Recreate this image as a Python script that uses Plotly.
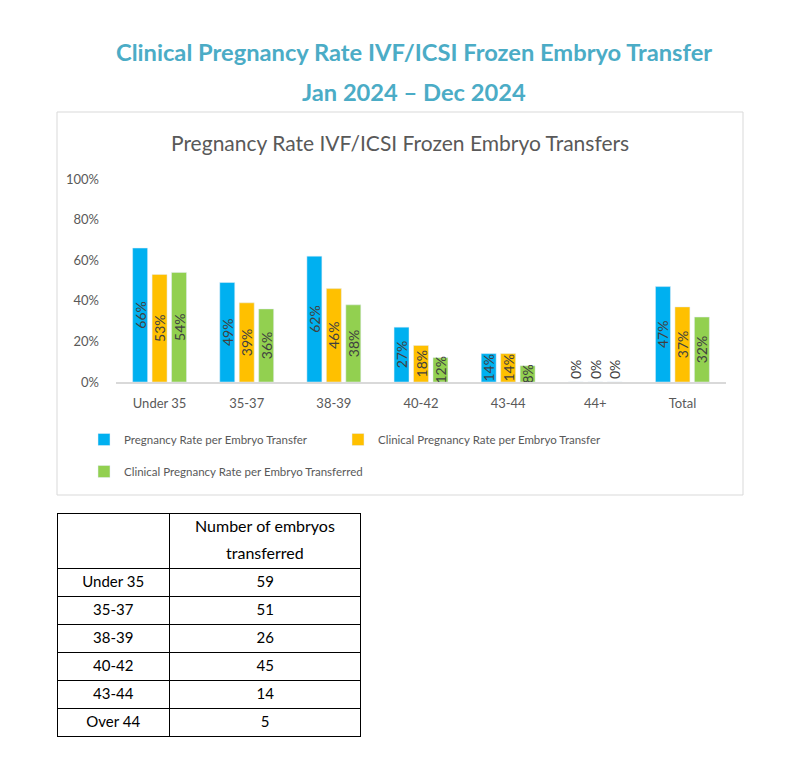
import plotly.graph_objects as go

# chart data
age_groups = ["Under 35", "35-37", "38-39", "40-42", "43-44", "44+", "Total"]
rate_per_transfer = [66, 49, 62, 27, 14, 0, 47]
clinical_per_transfer = [53, 39, 46, 18, 14, 0, 37]
clinical_per_embryo = [54, 36, 38, 12, 8, 0, 32]

series_names = ["Pregnancy Rate per Embryo Transfer",
                "Clinical Pregnancy Rate per Embryo Transfer",
                "Clinical Pregnancy Rate per Embryo Transferred"]
series_colors = ["#00B0F0", "#FFC000", "#92D050"]

# table data
table_groups = ["Under 35", "35-37", "38-39", "40-42", "43-44", "Over 44"]
embryos_transferred = [59, 51, 26, 45, 14, 5]
table_header = ["Number of embryos", "transferred"]

# page has an 8px body margin; keep the figure inside the 790x768 window
OFF = 8
W, H = 774, 752
FONT = "Lato, sans-serif"


def px_x(px):
    return (px - OFF) / W


def px_y(py):
    return 1 - (py - OFF) / H


fig = go.Figure()

all_series = [rate_per_transfer, clinical_per_transfer, clinical_per_embryo]
legends = ["legend", "legend2", "legend3"]
for name, color, values, leg in zip(series_names, series_colors, all_series, legends):
    fig.add_trace(go.Bar(
        name = name,
        x = age_groups,
        y = [v / 100 for v in values],
        text = [f"{v}%" for v in values],
        textposition = ["outside" if v == 0 else "inside" for v in values],
        insidetextanchor = "middle",
        textangle = -90,
        constraintext = "none",
        textfont = dict(family = FONT, size = 14, color = "#404040"),
        marker = dict(color = color),
        cliponaxis = False,
        legend = leg,
    ))

fig.add_trace(go.Table(
    domain = dict(x = [px_x(57), px_x(361)], y = [px_y(745), px_y(513)]),
    columnwidth = [112, 191],
    header = dict(
        values = ["", ""],
        height = 55,
        align = "center",
        line = dict(color = "black", width = 1),
        fill = dict(color = "white"),
        font = dict(family = FONT, size = 15, color = "black"),
    ),
    cells = dict(
        values = [table_groups, embryos_transferred],
        height = 28,
        align = "center",
        line = dict(color = "black", width = 1),
        fill = dict(color = "white"),
        font = dict(family = FONT, size = 15, color = "black"),
    ),
))

legend_style = dict(orientation = "h", yanchor = "top",
                    font = dict(size = 11.5, color = "#595959"))

fig.update_layout(
    width = W, height = H,
    margin = dict(l = 0, r = 0, t = 0, b = 0, autoexpand = False),
    paper_bgcolor = "white", plot_bgcolor = "white",
    barmode = "group", bargap = 0.33, bargroupgap = 0.23,
    font = dict(family = FONT, color = "#595959"),
    xaxis = dict(domain = [px_x(116), px_x(726)], showgrid = False, automargin = False,
                 showline = True, linecolor = "#D9D9D9", linewidth = 2,
                 ticks = "", ticklabelstandoff = 8,
                 tickfont = dict(size = 13, color = "#595959")),
    yaxis = dict(domain = [px_y(382), px_y(179)], range = [0, 1], dtick = 0.2,
                 tickformat = ".0%", showgrid = False, zeroline = False, automargin = False,
                 showline = False, ticks = "", ticklabelstandoff = 16,
                 tickfont = dict(size = 13, color = "#595959")),
    legend = dict(x = px_x(84), y = px_y(425), **legend_style),
    legend2 = dict(x = px_x(338), y = px_y(425), **legend_style),
    legend3 = dict(x = px_x(84), y = px_y(457), **legend_style),
    showlegend = True,
)

# chart frame
fig.add_shape(type = "rect", xref = "paper", yref = "paper",
              x0 = px_x(57), x1 = px_x(743), y0 = px_y(495), y1 = px_y(112),
              line = dict(color = "#D9D9D9", width = 1), layer = "below")

fig.add_annotation(text = "Clinical Pregnancy Rate IVF/ICSI Frozen Embryo Transfer",
                   xref = "paper", yref = "paper", x = px_x(414), y = px_y(52),
                   xanchor = "center", yanchor = "middle", showarrow = False,
                   font = dict(family = FONT, size = 23.7, color = "#4BACC6", weight = "bold"))
fig.add_annotation(text = "Jan 2024 – Dec 2024",
                   xref = "paper", yref = "paper", x = px_x(414), y = px_y(92),
                   xanchor = "center", yanchor = "middle", showarrow = False,
                   font = dict(family = FONT, size = 23.7, color = "#4BACC6", weight = "bold"))
fig.add_annotation(text = "Pregnancy Rate IVF/ICSI Frozen Embryo Transfers",
                   xref = "paper", yref = "paper", x = px_x(400), y = px_y(142),
                   xanchor = "center", yanchor = "middle", showarrow = False,
                   font = dict(family = FONT, size = 21, color = "#595959"))
for line, py in zip(table_header, [525, 552]):
    fig.add_annotation(text = line,
                       xref = "paper", yref = "paper", x = px_x(265), y = px_y(py),
                       xanchor = "center", yanchor = "middle", showarrow = False,
                       font = dict(family = FONT, size = 16, color = "black"))

fig.write_html("out.html")
